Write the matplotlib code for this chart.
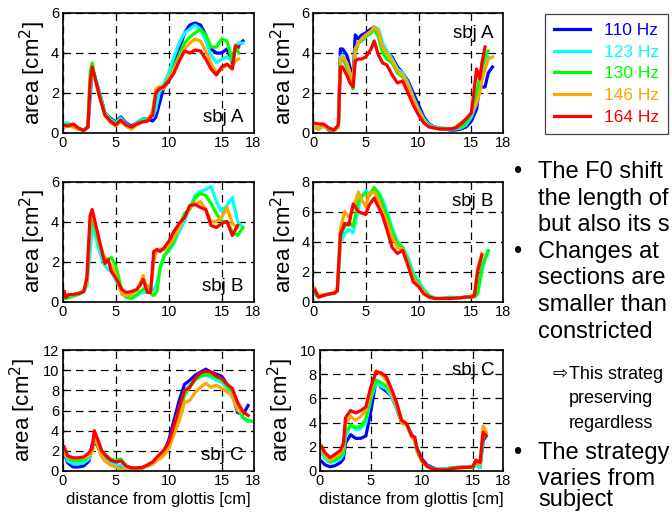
import numpy as np
import matplotlib
matplotlib.use("Agg")
import matplotlib.pyplot as plt

plt.rcParams['font.family'] = ['Liberation Sans', 'DejaVu Sans']

nan = np.nan
freqs = ["110 Hz", "123 Hz", "130 Hz", "146 Hz", "164 Hz"]
colors = ["#0000ff", "#00ffff", "#00ff00", "#ffa500", "#ff0000"]

# ---- sbj A, left panel ----
xA1 = [0.15, 0.5, 1, 1.5, 2, 2.4, 2.6, 2.8, 3.0, 3.5, 4, 4.5, 5, 5.5, 6, 6.5, 7, 7.5, 8, 8.5,
       8.8, 9.1, 9.5, 10, 10.5, 11, 11.5, 12, 12.5, 13, 13.5, 14, 14.5, 15, 15.5, 16, 16.3, 16.6, 17]
A1_110 = [0.3, 0.45, 0.35, 0.2, 0.15, 0.3, 1.8, 3.2, 2.9, 2.0, 1.0, 0.75, 0.55, 0.8, 0.5, 0.35, 0.5, 0.7, 0.7, 0.6,
          0.8, 1.4, 2.2, 2.6, 3.4, 4.2, 5.0, 5.4, 5.5, 5.4, 4.9, 4.2, 4.0, 4.0, 4.2, 3.5, 4.3, 4.4, 4.6]
A1_123 = [0.5, 0.5, 0.4, 0.2, 0.15, 0.3, 2.0, 3.3, 2.9, 2.0, 1.0, 0.7, 0.5, 0.75, 0.45, 0.3, 0.5, 0.7, 0.7, 0.8,
          1.2, 2.0, 2.4, 3.0, 3.8, 4.5, 5.0, 5.2, 5.4, 5.2, 4.6, 3.9, 3.5, 3.7, 3.8, 3.6, 4.2, 4.5, 4.5]
A1_130 = [0.4, 0.4, 0.35, 0.2, 0.15, 0.35, 3.0, 3.5, 2.9, 1.9, 0.9, 0.65, 0.45, 0.6, 0.35, 0.2, 0.45, 0.6, 0.65, 1.0,
          2.1, 2.3, 2.3, 2.7, 3.3, 3.9, 4.5, 4.8, 5.0, 5.2, 4.9, 4.3, 4.3, 4.7, 4.6, 3.6, 4.4, 4.0, nan]
A1_146 = [0.3, 0.35, 0.3, 0.2, 0.15, 0.3, 2.6, 3.3, 2.8, 1.8, 0.85, 0.55, 0.35, 0.55, 0.35, 0.2, 0.4, 0.55, 0.6, 1.1,
          2.2, 2.3, 2.2, 2.7, 3.2, 3.7, 4.2, 4.5, 4.7, 4.6, 4.1, 3.5, 3.0, 3.2, 3.4, 3.3, 3.6, 3.7, nan]
A1_164 = [0.4, 0.35, 0.45, 0.25, 0.12, 0.3, 2.5, 3.3, 2.9, 1.8, 0.9, 0.6, 0.4, 0.65, 0.4, 0.3, 0.45, 0.55, 0.6, 0.9,
          2.0, 2.2, 2.3, 2.6, 3.0, 3.6, 4.1, 4.0, 4.15, 4.1, 3.7, 3.2, 2.9, 3.3, 3.45, 3.2, 4.35, 4.3, nan]

# ---- sbj A, right panel ----
xA2 = [0.15, 0.5, 1, 1.5, 2, 2.4, 2.6, 2.8, 3.2, 3.5, 3.8, 4.0, 4.3, 4.6, 5, 5.5, 5.8, 6.2, 6.6, 7,
       7.5, 8, 8.5, 9, 9.5, 10, 10.5, 11, 11.5, 12, 12.5, 13, 13.5, 14, 14.5, 15, 15.5, 15.8, 16, 16.3, 16.6, 17]
A2_110 = [0.3, 0.2, 0.4, 0.15, 0.15, 0.3, 4.2, 4.2, 3.9, 3.3, 2.7, 4.9, 4.7, 4.9, 5.0, 5.2, 5.3, 5.1, 4.4, 4.0,
          3.8, 3.3, 3.0, 2.6, 2.0, 1.4, 0.8, 0.45, 0.3, 0.25, 0.2, 0.15, 0.15, 0.2, 0.3, 0.6, 1.2, 2.4, 2.3, 2.3, 3.0, 3.3]
A2_123 = [0.3, 0.2, 0.35, 0.2, 0.15, 0.3, 3.8, 3.9, 3.5, 3.0, 2.5, 4.2, 4.5, 4.7, 4.9, 5.0, 5.3, 5.2, 4.5, 4.1,
          3.7, 3.2, 3.0, 2.5, 1.8, 1.2, 0.7, 0.4, 0.3, 0.25, 0.25, 0.2, 0.2, 0.25, 0.4, 0.8, 1.5, 2.5, 3.0, 3.5, 3.8, nan]
A2_130 = [0.3, 0.2, 0.35, 0.2, 0.15, 0.3, 3.6, 3.7, 3.3, 2.8, 2.2, 4.0, 4.5, 4.6, 4.8, 5.0, 5.2, 4.8, 4.0, 3.7,
          3.5, 3.0, 2.8, 2.3, 1.7, 1.1, 0.6, 0.35, 0.25, 0.2, 0.2, 0.2, 0.25, 0.3, 0.5, 1.0, 2.0, 2.8, 3.3, 3.8, 4.1, nan]
A2_146 = [0.3, 0.2, 0.35, 0.2, 0.15, 0.3, 3.7, 3.8, 3.5, 3.0, 2.5, 4.2, 4.5, 4.7, 4.9, 5.1, 5.3, 5.1, 4.3, 4.0,
          3.6, 3.1, 2.9, 2.4, 1.7, 1.1, 0.6, 0.3, 0.25, 0.2, 0.2, 0.2, 0.3, 0.5, 0.7, 1.0, 1.5, 2.0, 2.6, 3.2, 3.7, 3.8]
A2_164 = [0.5, 0.45, 0.45, 0.25, 0.15, 0.4, 3.3, 3.3, 2.9, 2.5, 2.3, 3.6, 3.7, 3.7, 3.8, 4.2, 4.6, 3.9, 3.5, 3.4,
          2.9, 2.5, 2.6, 2.0, 1.4, 0.9, 0.5, 0.3, 0.25, 0.2, 0.2, 0.2, 0.25, 0.45, 0.7, 1.0, 3.2, 2.7, 3.5, 4.3, nan, nan]

# ---- sbj B, left panel (no 110 Hz) ----
xB1 = [0.15, 0.3, 0.6, 1, 1.5, 2, 2.3, 2.6, 2.8, 3.1, 3.5, 3.8, 4.0, 4.3, 4.6, 5.0, 5.3, 5.6, 6, 6.5,
       7, 7.3, 7.6, 8, 8.3, 8.6, 8.9, 9.2, 9.6, 10, 10.5, 11, 11.5, 12, 12.5, 13, 13.5, 14, 14.5, 15,
       15.5, 16, 16.5, 17]
B1_110 = [nan] * 44
B1_123 = [0.3, 0.15, 0.2, 0.25, 0.35, 0.5, 0.8, 2.5, 3.7, 3.3, 2.5, 2.0, 1.8, 1.6, 1.5, 1.1, 0.8, 0.4, 0.2, 0.15,
          0.3, 0.4, 0.45, 0.5, 0.5, 0.6, 0.9, 1.6, 2.3, 2.5, 2.9, 3.5, 4.0, 4.7, 5.3, 5.5, 5.6, 5.75, 5.0, 4.5,
          4.8, 5.2, 4.0, 3.7]
B1_130 = [0.2, 0.15, 0.2, 0.3, 0.35, 0.5, 0.9, 3.5, 4.2, 3.6, 2.8, 2.4, 2.0, 2.1, 2.2, 1.8, 1.2, 0.5, 0.25, 0.15,
          0.35, 0.5, 0.6, 0.8, 0.4, 0.3, 0.5, 1.7, 2.3, 2.6, 3.0, 3.8, 4.4, 4.6, 5.2, 5.4, 5.3, 4.9, 4.4, 4.0,
          4.0, 3.5, 3.3, 3.7]
B1_146 = [0.5, 0.25, 0.3, 0.35, 0.4, 0.5, 1.0, 4.0, 4.4, 3.8, 2.9, 2.4, 2.2, 2.0, 1.8, 1.4, 0.8, 0.35, 0.3, 0.35,
          0.6, 0.9, 1.3, 0.6, 0.5, 2.0, 2.6, 2.6, 2.6, 2.8, 3.2, 3.7, 4.2, 4.7, 4.9, 5.0, 4.6, 4.0, 4.0, 4.2,
          4.7, 3.9, 3.7, nan]
B1_164 = [0.5, 0.2, 0.35, 0.35, 0.4, 0.5, 1.2, 4.3, 4.6, 3.9, 3.0, 2.3, 1.9, 2.1, 1.5, 1.2, 0.9, 0.6, 0.45, 0.5,
          0.6, 0.8, 1.1, 0.45, 0.45, 2.5, 2.6, 2.5, 2.7, 3.0, 3.5, 3.9, 4.2, 4.8, 4.85, 4.7, 4.6, 3.8, 3.7, 3.9,
          4.0, 3.3, 3.8, nan]

# ---- sbj B, right panel (no 110 Hz) ----
xB2 = [0.15, 0.5, 1, 1.5, 2, 2.3, 2.6, 3.0, 3.4, 3.8, 4.3, 4.6, 5.0, 5.3, 5.8, 6.2, 6.6, 7.0, 7.5, 8.0,
       8.5, 9.0, 9.5, 10, 10.5, 11, 11.5, 12, 13, 14, 14.5, 15, 15.3, 15.6, 16, 16.3, 16.6]
B2_110 = [nan] * 37
B2_123 = [0.5, 0.3, 0.4, 0.5, 0.55, 0.7, 3.9, 4.5, 4.8, 4.6, 6.2, 7.0, 7.4, 7.2, 7.5, 7.3, 6.8, 6.0, 4.9, 4.0,
          3.6, 2.9, 1.9, 1.4, 0.8, 0.4, 0.25, 0.2, 0.3, 0.25, 0.3, 0.3, 0.35, 0.6, 2.0, 2.8, 3.3]
B2_130 = [0.6, 0.3, 0.4, 0.5, 0.55, 0.7, 4.3, 5.0, 5.3, 5.0, 6.7, 7.0, 7.2, 7.0, 7.6, 7.2, 6.5, 5.8, 4.6, 3.9,
          3.6, 2.7, 1.7, 1.2, 0.7, 0.4, 0.2, 0.2, 0.25, 0.25, 0.3, 0.3, 0.3, 0.5, 2.3, 2.9, 3.4]
B2_146 = [0.9, 0.4, 0.45, 0.5, 0.6, 0.9, 4.8, 6.0, 5.6, 6.2, 7.3, 6.8, 6.3, 7.2, 7.3, 6.8, 6.0, 5.3, 4.3, 3.6,
          3.5, 2.5, 1.5, 1.1, 0.6, 0.3, 0.2, 0.2, 0.2, 0.25, 0.3, 0.35, 0.5, 2.2, 3.2, nan, nan]
B2_164 = [0.8, 0.3, 0.4, 0.5, 0.55, 0.7, 4.5, 5.2, 5.1, 6.5, 6.0, 5.9, 5.8, 6.4, 6.9, 6.3, 5.7, 4.8, 3.6, 3.2,
          3.4, 2.4, 1.3, 1.0, 0.5, 0.3, 0.2, 0.2, 0.2, 0.25, 0.3, 0.3, 0.4, 2.0, 3.1, nan, nan]

# ---- sbj C, left panel ----
xC1 = [0.15, 0.5, 1, 1.5, 2, 2.5, 2.8, 3.0, 3.3, 3.7, 4, 4.5, 5, 5.5, 6, 6.5, 7, 7.5, 8, 8.5,
       9, 9.5, 10, 10.5, 11, 11.5, 12, 12.5, 13, 13.5, 14, 14.5, 15, 15.5, 16, 16.5, 17, 17.5, 18]
C1_110 = [1.8, 0.8, 0.4, 0.4, 0.5, 1.0, 2.7, 3.0, 2.5, 1.5, 1.2, 0.8, 0.6, 0.5, 0.3, 0.2, 0.25, 0.3, 0.5, 0.8,
          1.2, 1.8, 3.0, 5.0, 7.0, 8.6, 9.0, 9.5, 9.8, 10.1, 9.8, 9.6, 9.4, 8.6, 7.6, 5.8, 5.6, 6.5, nan]
C1_123 = [1.9, 1.0, 0.7, 0.7, 0.8, 1.2, 2.2, 3.2, 2.7, 1.6, 1.3, 0.8, 0.6, 0.6, 0.3, 0.2, 0.25, 0.3, 0.5, 0.8,
          1.2, 1.7, 2.5, 4.2, 6.0, 7.8, 8.6, 9.1, 9.4, 9.5, 9.3, 9.0, 8.8, 8.2, 7.3, 6.2, 5.3, 4.9, nan]
C1_130 = [2.0, 1.3, 1.0, 1.0, 1.1, 1.5, 2.0, 3.5, 3.0, 2.0, 1.7, 1.2, 1.0, 1.2, 0.5, 0.3, 0.3, 0.3, 0.5, 0.7,
          1.2, 1.6, 2.2, 4.0, 5.8, 7.5, 8.4, 9.0, 9.4, 9.6, 9.5, 9.3, 9.0, 8.5, 7.8, 6.5, 5.3, 5.0, 4.9]
C1_146 = [1.6, 1.4, 1.3, 1.3, 1.3, 1.5, 1.8, 3.6, 2.6, 1.4, 1.0, 0.6, 0.4, 0.2, 0.1, 0.05, 0.15, 0.3, 0.5, 0.7,
          1.1, 1.5, 2.2, 3.6, 5.0, 6.8, 7.0, 7.8, 8.3, 8.7, 8.3, 8.5, 8.2, 7.9, 7.5, 6.0, 5.8, nan, nan]
C1_164 = [2.4, 1.5, 1.3, 1.3, 1.4, 1.8, 2.3, 4.0, 3.2, 2.0, 1.6, 1.1, 0.9, 1.0, 0.5, 0.3, 0.3, 0.35, 0.6, 0.9,
          1.5, 2.0, 2.8, 4.5, 6.3, 8.0, 8.3, 9.2, 9.7, 9.9, 9.8, 9.4, 9.2, 8.6, 8.2, 6.8, 5.9, 5.5, nan]

# ---- sbj C, right panel ----
xC2 = [0.15, 0.5, 1, 1.5, 2, 2.3, 2.5, 3.0, 3.5, 4, 4.5, 5, 5.5, 6, 6.5, 7, 7.5, 8, 8.5, 9,
       9.3, 9.5, 10, 10.5, 11, 11.5, 12, 12.5, 13, 13.5, 14, 14.5, 15, 15.3, 15.7, 16, 16.3]
C2_110 = [0.8, 0.5, 0.35, 0.45, 0.7, 1.0, 2.3, 3.0, 2.7, 2.7, 2.9, 5.0, 7.5, 6.9, 6.6, 6.2, 5.2, 4.0, 3.8, 3.0,
          2.6, 1.9, 1.0, 0.5, 0.3, 0.15, 0.15, 0.2, 0.25, 0.3, 0.3, 0.3, 0.3, 0.5, 0.3, 2.5, 2.9]
C2_123 = [1.5, 1.0, 0.7, 0.8, 1.0, 1.4, 2.8, 3.8, 3.4, 3.5, 4.0, 6.0, 7.3, 7.0, 6.8, 6.2, 5.2, 4.1, 3.8, 2.9,
          2.4, 1.7, 0.8, 0.45, 0.25, 0.15, 0.15, 0.2, 0.3, 0.3, 0.3, 0.3, 0.3, 0.5, 0.3, 2.8, 3.0]
C2_130 = [2.1, 1.3, 0.8, 0.9, 1.2, 1.5, 3.2, 3.8, 3.6, 3.7, 4.3, 6.2, 7.5, 7.3, 7.0, 6.5, 5.4, 4.2, 3.9, 2.9,
          2.6, 1.7, 0.8, 0.4, 0.2, 0.1, 0.1, 0.15, 0.25, 0.3, 0.3, 0.3, 0.3, 0.7, 0.5, 3.0, 3.0]
C2_146 = [1.8, 1.3, 0.9, 1.2, 1.5, 2.0, 3.9, 4.5, 4.2, 4.5, 5.0, 6.8, 8.3, 8.0, 7.5, 6.5, 5.4, 4.0, 3.8, 2.8,
          2.5, 1.8, 0.8, 0.35, 0.15, 0.1, 0.1, 0.1, 0.2, 0.25, 0.25, 0.3, 0.4, 0.9, 0.5, 3.7, 3.2]
C2_164 = [2.0, 1.5, 1.1, 1.4, 1.7, 2.3, 4.4, 5.0, 4.8, 5.0, 5.3, 7.0, 8.2, 8.1, 7.8, 6.8, 5.7, 4.2, 3.9, 2.9,
          2.8, 1.9, 0.9, 0.4, 0.2, 0.1, 0.1, 0.1, 0.2, 0.25, 0.3, 0.3, 0.35, 0.9, 0.7, 3.2, 2.9]

xticks = [0, 5, 10, 15, 18]
panels = [
    # x, series, y ticks, subject label, label position, axes pixel box (L, T, R, B)
    (xA1, [A1_110, A1_123, A1_130, A1_146, A1_164], [0, 2, 4, 6], "sbj A", "low", (62.5, 13, 253.5, 133)),
    (xA2, [A2_110, A2_123, A2_130, A2_146, A2_164], [0, 2, 4, 6], "sbj A", "high", (313, 13, 503, 133)),
    (xB1, [B1_110, B1_123, B1_130, B1_146, B1_164], [0, 2, 4, 6], "sbj B", "low", (62.5, 181.5, 253.5, 301.5)),
    (xB2, [B2_110, B2_123, B2_130, B2_146, B2_164], [0, 2, 4, 6, 8], "sbj B", "high", (313, 181.5, 503, 301.5)),
    (xC1, [C1_110, C1_123, C1_130, C1_146, C1_164], [0, 2, 4, 6, 8, 10, 12], "sbj C", "low", (62.5, 350, 253.5, 471)),
    (xC2, [C2_110, C2_123, C2_130, C2_146, C2_164], [0, 2, 4, 6, 8, 10], "sbj C", "high", (320, 350, 503.5, 471)),
]

W, H = 672, 512
fig = plt.figure(figsize=(W / 100, H / 100), dpi=100)

handles = None
for i, (x, series, yt, lab, lpos, (L, T, R, B)) in enumerate(panels):
    ax = fig.add_axes([L / W, 1 - B / H, (R - L) / W, (B - T) / H])
    hs = []
    for s, c, f in zip(series, colors, freqs):
        h, = ax.plot(x, s, color=c, lw=2.3, label=f, solid_joinstyle='round')
        hs.append(h)
    if handles is None:
        handles = hs
    ax.set_xlim(0, 18)
    ax.set_ylim(yt[0], yt[-1])
    ax.set_xticks(xticks)
    ax.set_yticks(yt)
    ax.grid(True, color='k', lw=0.9, ls=(0, (6, 4)))
    ax.tick_params(direction='in', length=3, labelsize=10.5, pad=2.5, width=0.8)
    for sp in ax.spines.values():
        sp.set_linewidth(1.2)
    ax.set_ylabel("area [cm$^2$]", fontsize=16)
    off = -24 if i >= 4 else -14
    ax.yaxis.set_label_coords(off / (R - L), 0.5)
    if i >= 4:
        ax.set_xlabel("distance from glottis [cm]", fontsize=12)
        ax.xaxis.set_label_coords(0.5, -0.175)
    ty = 0.125 if lpos == "low" else 0.83
    ax.text(0.95, ty, lab, transform=ax.transAxes, ha='right', va='center', fontsize=13.5)

leg = fig.legend(handles=handles, labels=freqs, loc='upper right',
                 bbox_to_anchor=(668 / W, 1 - 14 / H), borderaxespad=0,
                 fontsize=12.5, labelcolor='linecolor',
                 handlelength=2.1, handletextpad=0.8, labelspacing=0.38, borderpad=0.5,
                 fancybox=False, framealpha=1, edgecolor='#444444')
leg.get_frame().set_linewidth(0.9)

# bullet text (the slide excerpt is cut at the right edge)
main_fs = 17
sub_fs = 13
lines = [
    (178, "•", "The F0 shift", main_fs),
    (205, "", "the length of", main_fs),
    (231, "", "but also its s", main_fs),
    (258, "•", "Changes at", main_fs),
    (284, "", "sections are", main_fs),
    (311, "", "smaller than", main_fs),
    (338, "", "constricted", main_fs),
    (379, "⇨", "This strateg", sub_fs),
    (403, "", "preserving", sub_fs),
    (428, "", "regardless", sub_fs),
    (459, "•", "The strategy", main_fs),
    (485, "", "varies from", main_fs),
    (506, "", "subject", main_fs),
]
for yb, mark, txt, fs in lines:
    if fs == main_fs:
        if mark:
            fig.text(513 / W, 1 - yb / H, mark, fontsize=fs, va='baseline', ha='left')
        fig.text(538 / W, 1 - yb / H, txt, fontsize=fs, va='baseline', ha='left')
    else:
        if mark:
            fig.text(552 / W, 1 - yb / H, mark, fontsize=fs, va='baseline', ha='left',
                     family=['DejaVu Sans'])
        fig.text(569 / W, 1 - yb / H, txt, fontsize=fs, va='baseline', ha='left')

fig.savefig("out.png", dpi=100)
